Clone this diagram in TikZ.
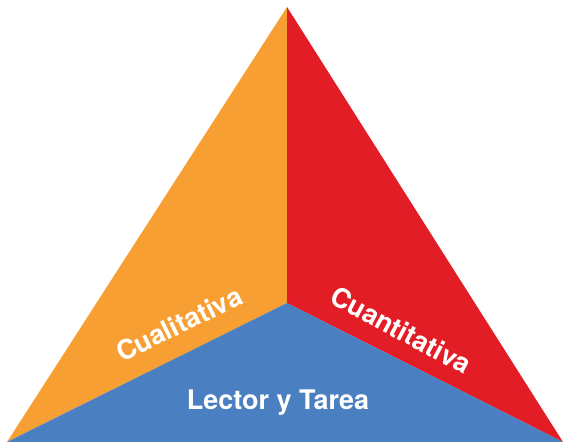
\documentclass[tikz,border=0pt]{standalone}
\usepackage{fontspec}
\setmainfont{TeX Gyre Heros}
\definecolor{cualcolor}{HTML}{F79F33}
\definecolor{cuancolor}{HTML}{E31D25}
\definecolor{lectcolor}{HTML}{4A80C1}
\begin{document}
\begin{tikzpicture}
[x=1pt,y=-1pt,
  facedecorate/.style={draw=none},%
  labeldecorate/.style={text=white,font=\bfseries\fontsize{27}{29}\selectfont,inner sep=0pt}]
\useasboundingbox (0,0) rectangle (563,443);
% corners of the triangle
\coordinate (top) at (287,7);
\coordinate (left) at (7,442);
\coordinate (right) at (563,442);
\coordinate (mid) at (287,303);
% faces
\fill[cualcolor,facedecorate] (top) -- (mid) -- (left) -- cycle;
\fill[cuancolor,facedecorate] (top) -- (right) -- (mid) -- cycle;
\fill[lectcolor,facedecorate] (left) -- (mid) -- (right) -- cycle;
% labels
\node (cual) at (179,324) [labeldecorate,rotate=26] {Cualitativa};
\node (cuan) at (401,330) [labeldecorate,rotate=-28] {Cuantitativa};
\node (lect) at (278,403) [labeldecorate] {Lector y Tarea};
\end{tikzpicture}
\end{document}
